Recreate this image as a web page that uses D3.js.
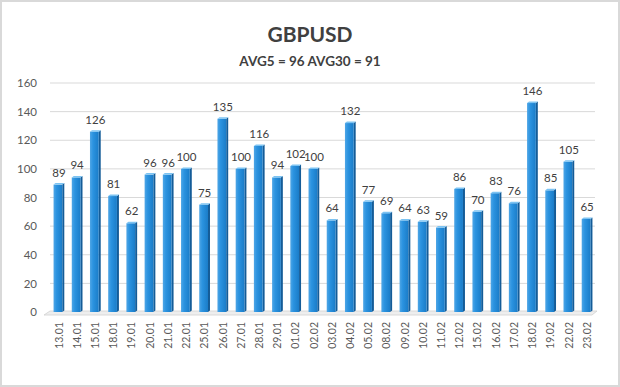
<!DOCTYPE html>
<html><head><meta charset="utf-8">
<script src="https://cdn.jsdelivr.net/npm/d3@7"></script>
<style>body{margin:0;background:#fff}svg{display:block}</style>
</head><body><svg id="c" width="620" height="387"></svg>
<script>
const categories = ["13.01","14.01","15.01","18.01","19.01","20.01","21.01","22.01","25.01","26.01","27.01","28.01","29.01","01.02","02.02","03.02","04.02","05.02","08.02","09.02","10.02","11.02","12.02","15.02","16.02","17.02","18.02","19.02","22.02","23.02"];
const values = [89,94,126,81,62,96,96,100,75,135,100,116,94,102,100,64,132,77,69,64,63,59,86,70,83,76,146,85,105,65];
const yTicks = [0,20,40,60,80,100,120,140,160];
const title = "GBPUSD";
const subtitle = "AVG5 = 96 AVG30 = 91";

const svg = d3.select("#c");
const defs = svg.append("defs");
const g1 = defs.append("linearGradient").attr("id","barg").attr("x1","0").attr("x2","1").attr("y1","0").attr("y2","0");
g1.append("stop").attr("offset","0").attr("stop-color","#4fa6e6");
g1.append("stop").attr("offset","0.35").attr("stop-color","#2b93e0");
g1.append("stop").attr("offset","1").attr("stop-color","#1a7cc8");

svg.append("rect").attr("x",1).attr("y",1).attr("width",618).attr("height",385)
  .attr("fill","#fff").attr("stroke","#d9d9d9").attr("stroke-width",2);

const x = d3.scaleBand().domain(categories).range([49,595]).paddingInner(0.52).paddingOuter(0.25);
const y = d3.scaleLinear().domain([0,160]).range([312,83]);

// gridlines
const grid = svg.append("g");
grid.selectAll("line").data(yTicks).join("line")
  .attr("x1",50).attr("x2",595).attr("y1",d=>y(d)).attr("y2",d=>y(d))
  .attr("stroke","#d9d9d9").attr("stroke-width",1);
// floor
svg.append("path").attr("d",`M44,${y(0)+3} L50,${y(0)-1} L597,${y(0)-1} L592,${y(0)+3} Z`)
  .attr("fill","#eeeeee").attr("stroke","#d0d0d0").attr("stroke-width",0.8);

// y axis labels
const yAxis = d3.axisLeft(y).tickValues(yTicks).tickSize(0).tickPadding(0);
const ya = svg.append("g").attr("transform","translate(37,0)").call(yAxis);
ya.select(".domain").remove();
ya.selectAll("text").attr("font-family","Lato, 'Open Sans', sans-serif").attr("font-size",11.5).attr("fill","#595959");

// bars
const bw = x.bandwidth();
const bars = svg.append("g");
const bg = bars.selectAll("g").data(values).join("g");
bg.append("path")
  .attr("d",(d,i)=>{const x0=x(categories[i])+bw, t=y(d); return `M${x0},${t} L${x0+2},${t-1.5} L${x0+2},${y(0)-1.5} L${x0},${y(0)} Z`;})
  .attr("fill","#145c98");
bg.append("rect").attr("x",(d,i)=>x(categories[i])).attr("y",d=>y(d))
  .attr("width",bw).attr("height",d=>y(0)-y(d)).attr("fill","url(#barg)");
bg.append("path")
  .attr("d",(d,i)=>{const x0=x(categories[i]), t=y(d); return `M${x0},${t} L${x0+2},${t-1.5} L${x0+bw+2},${t-1.5} L${x0+bw},${t} Z`;})
  .attr("fill","#7cc3f2");
bg.append("text").attr("x",(d,i)=>x(categories[i])+bw/2+1).attr("y",d=>y(d)-8)
  .attr("text-anchor","middle").attr("font-family","Lato, 'Open Sans', sans-serif")
  .attr("font-size",11.5).attr("fill","#404040").text(d=>d);

// x axis labels
const xAxis = d3.axisBottom(x).tickSize(0).tickPadding(0);
const xa = svg.append("g").attr("transform",`translate(1,${y(0)+10})`).call(xAxis);
xa.select(".domain").remove();
xa.selectAll("text").attr("font-family","Lato, 'Open Sans', sans-serif").attr("font-size",10.5).attr("fill","#595959")
  .attr("text-anchor","end").attr("transform","rotate(-90)").attr("x",0).attr("y",0).attr("dy","0.35em");

svg.append("text").attr("x",310).attr("y",42).attr("text-anchor","middle")
  .attr("font-family","Lato, 'Open Sans', sans-serif").attr("font-weight","bold").attr("font-size",21)
  .attr("fill","#404040").text(title);
svg.append("text").attr("x",310).attr("y",66).attr("text-anchor","middle")
  .attr("font-family","Lato, 'Open Sans', sans-serif").attr("font-weight","bold").attr("font-size",13.5)
  .attr("fill","#404040").text(subtitle);
</script></body></html>
